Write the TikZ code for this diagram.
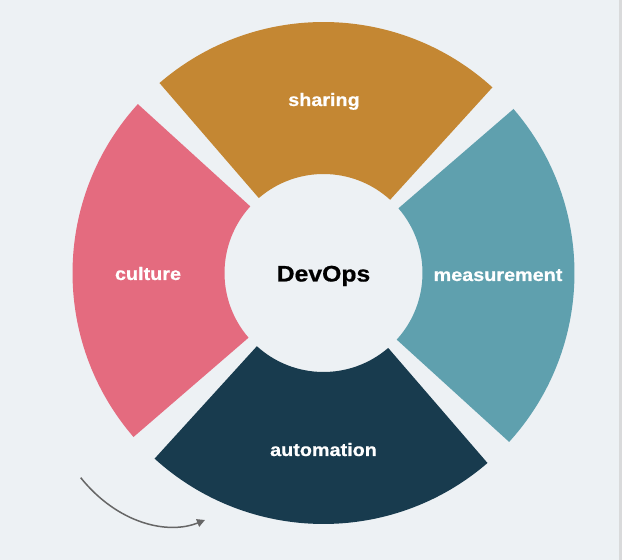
\documentclass[tikz,border=0pt]{standalone}
\usepackage{fontspec}
\setmainfont{Liberation Sans}[FakeStretch=1.1, BoldFeatures={FakeBold=0.7}]
\usetikzlibrary{arrows.meta}

\definecolor{bgcol}{HTML}{EDF1F4}
\definecolor{stripcol}{HTML}{D9DADB}
\definecolor{sharecol}{HTML}{C48733}
\definecolor{culturecol}{HTML}{E46B7F}
\definecolor{measurecol}{HTML}{5FA0AE}
\definecolor{autocol}{HTML}{183B4E}
\definecolor{arrowcol}{HTML}{666666}

\tikzset{
  seglabel/.style={anchor=base, text=white, font=\fontsize{18}{20}\selectfont\bfseries, inner sep=0pt},
  hublabel/.style={anchor=base, text=black, font=\fontsize{22.5}{26}\selectfont\bfseries, inner sep=0pt},
  turnarrow/.style={draw=arrowcol, line width=1.5pt, -{Triangle[length=8pt,width=8pt]}},
}

% ring sector: #1 colour, #2 start angle, #3 end angle
\newcommand{\ringsector}[3]{%
  \fill[#1] (#2:99pt) -- (#2:251pt) arc[start angle=#2, end angle=#3, radius=251pt]
    -- (#3:99pt) arc[start angle=#3, end angle=#2, radius=99pt] -- cycle;}

\begin{document}
\begin{tikzpicture}
  % canvas
  \fill[bgcol] (0pt,0pt) rectangle (622pt,560pt);
  \fill[stripcol] (619pt,0pt) rectangle (622pt,560pt);
  \useasboundingbox (0pt,0pt) rectangle (622pt,560pt);

  % the four ring sectors around the hub
  \begin{scope}[shift={(323.5pt,287pt)}]
    \ringsector{sharecol}{47.7}{130.8}
    \ringsector{culturecol}{137.7}{220.8}
    \ringsector{autocol}{227.7}{310.8}
    \ringsector{measurecol}{-42.3}{40.8}
  \end{scope}

  % labels
  \node[hublabel] (hub) at (323.5pt,278.5pt) {DevOps};
  \node[seglabel] (sharing) at (324pt,454pt) {sharing};
  \node[seglabel] (culture) at (148pt,280pt) {culture};
  \node[seglabel] (measurement) at (498pt,279pt) {measurement};
  \node[seglabel] (automation) at (323.5pt,104pt) {automation};

  % rotation hint arrow
  \coordinate (arrA) at (80.7pt,82.3pt);
  \coordinate (arrB) at (205pt,40pt);
  \draw[turnarrow] (arrA) .. controls (118pt,36pt) and (168pt,25pt) .. (arrB);
\end{tikzpicture}
\end{document}
